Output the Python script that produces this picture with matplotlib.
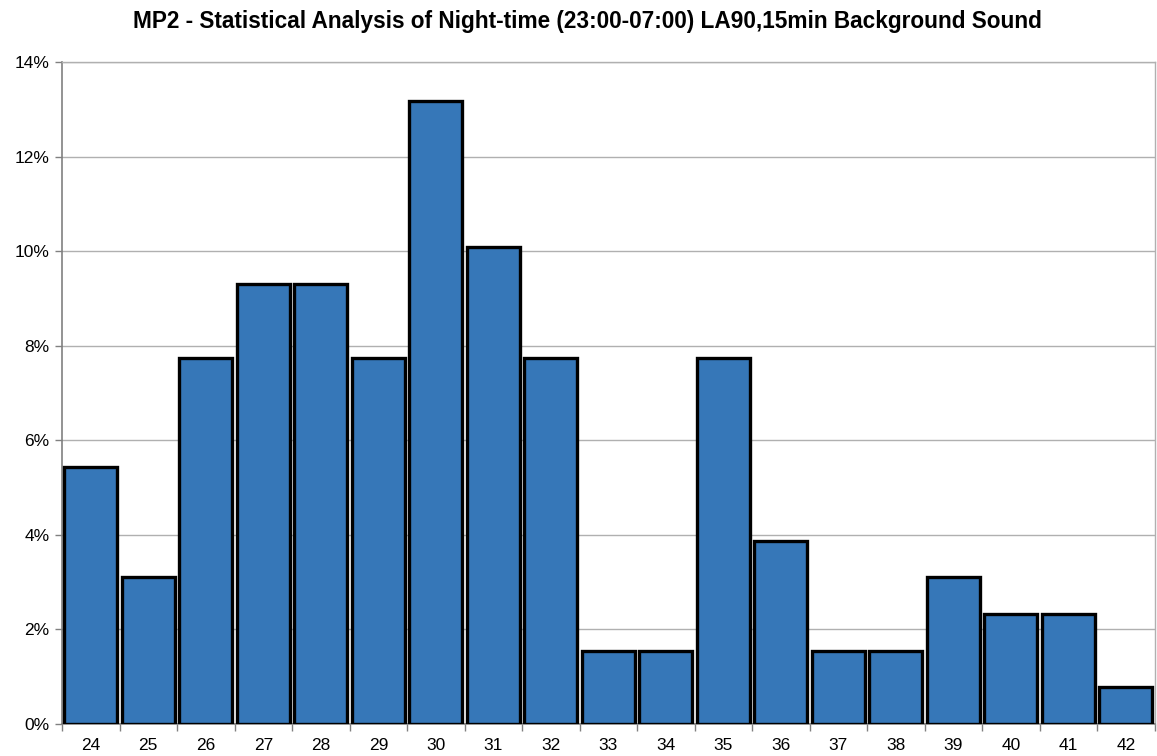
import numpy as np
import matplotlib.pyplot as plt
from matplotlib.ticker import FuncFormatter

plt.rcParams['font.family'] = ['Liberation Sans', 'DejaVu Sans']

# LA90 level bins (dB) and share of night-time samples (%)
levels = [24, 25, 26, 27, 28, 29, 30, 31, 32, 33, 34, 35, 36, 37, 38, 39, 40, 41, 42]
share = [5.43, 3.10, 7.75, 9.30, 9.30, 7.75, 13.18, 10.08, 7.75, 1.55,
         1.55, 7.75, 3.88, 1.55, 1.55, 3.10, 2.33, 2.33, 0.78]
title = "MP2 - Statistical Analysis of Night-time (23:00-07:00) LA90,15min Background Sound"

fig = plt.figure(figsize=(11.57, 7.56), dpi=100)
ax = fig.add_axes([0.0536, 0.0423, 0.9444, 0.8757])

x = np.arange(len(levels))
ax.bar(x, share, width=0.92, color='#3677b8', edgecolor='black', linewidth=2.4, zorder=3)

ax.set_xlim(-0.5, len(levels) - 0.5)
ax.set_ylim(0, 14)
ax.set_yticks(np.arange(0, 15, 2))
ax.yaxis.set_major_formatter(FuncFormatter(lambda v, p: f"{v:.0f}%"))
ax.yaxis.grid(True, color='#b0b0b0', linewidth=1, zorder=0)

# labels centred on bars, tick marks between bars
ax.set_xticks(x)
ax.set_xticklabels([str(l) for l in levels])
ax.set_xticks(np.arange(-0.5, len(levels)), minor=True)
ax.tick_params(axis='x', which='major', length=0, pad=10, labelsize=12.5)
ax.tick_params(axis='x', which='minor', length=5, color='#808080', width=1)
ax.tick_params(axis='y', length=5, color='#808080', width=1, labelsize=12.5, pad=4)

for s in ['left', 'bottom']:
    ax.spines[s].set_color('#808080')
    ax.spines[s].set_linewidth(1.2)
for s in ['top', 'right']:
    ax.spines[s].set_color('#b0b0b0')
    ax.spines[s].set_linewidth(1)

fig.text(0.508, 0.972, title, ha='center', va='center', fontsize=16.3, fontweight='bold')

fig.savefig('out.png', dpi=100)
